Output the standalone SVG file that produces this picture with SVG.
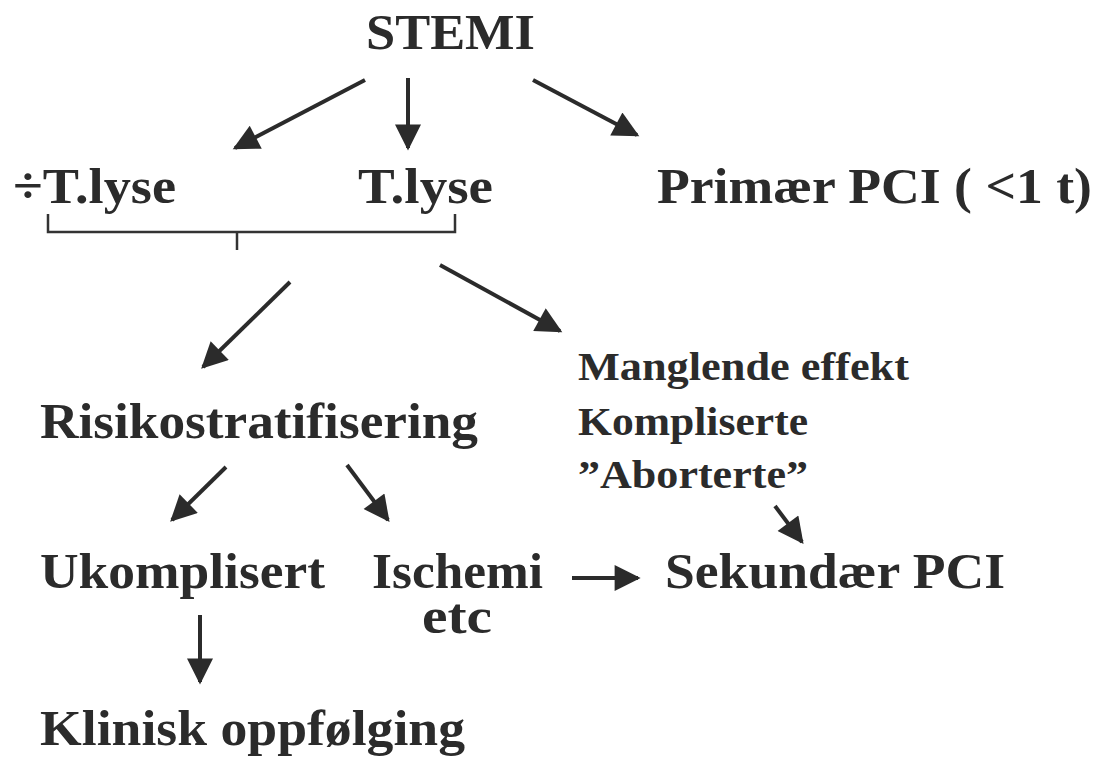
<svg xmlns="http://www.w3.org/2000/svg" width="1098" height="757" viewBox="0 0 1098 757">
<defs>
<style>
text{font-family:"Liberation Serif","Times New Roman",serif;font-weight:bold;fill:#2b2b2b}
.big{font-size:51px}
.mid{font-size:40px}
.ln{stroke:#2b2b2b;stroke-width:4;fill:none}
.br{stroke:#333;stroke-width:2.5;fill:none}
</style>
<marker id="a" viewBox="0 0 10 10" refX="9" refY="5" markerWidth="7" markerHeight="6.5" orient="auto">
<path d="M0,0 L10,5 L0,10 z" fill="#2b2b2b"/>
</marker>
</defs>
<rect width="1098" height="757" fill="#fff"/>
<g id="stemi"><text class="big" x="366" y="49" textLength="169" lengthAdjust="spacingAndGlyphs">STEMI</text></g>
<g id="ingen-tlyse"><text class="big" x="13" y="203" textLength="163" lengthAdjust="spacingAndGlyphs">÷T.lyse</text></g>
<g id="tlyse"><text class="big" x="358" y="203" textLength="135" lengthAdjust="spacingAndGlyphs">T.lyse</text></g>
<g id="primaer"><text class="big" x="657" y="203" textLength="435" lengthAdjust="spacingAndGlyphs">Primær PCI ( &lt;1 t)</text></g>
<g id="risiko"><text class="big" x="40" y="438" textLength="438" lengthAdjust="spacingAndGlyphs">Risikostratifisering</text></g>
<g id="manglende">
<text class="mid" x="578" y="380" textLength="331" lengthAdjust="spacingAndGlyphs">Manglende effekt</text>
<text class="mid" x="578" y="435" textLength="230" lengthAdjust="spacingAndGlyphs">Kompliserte</text>
<text class="mid" x="578" y="488" textLength="230" lengthAdjust="spacingAndGlyphs">”Aborterte”</text>
</g>
<g id="ukomplisert"><text class="big" x="40" y="588" textLength="285" lengthAdjust="spacingAndGlyphs">Ukomplisert</text></g>
<g id="ischemi">
<text class="big"><tspan x="372" y="588" textLength="171" lengthAdjust="spacingAndGlyphs">Ischemi</tspan><tspan x="422" y="633" textLength="70" lengthAdjust="spacingAndGlyphs">etc</tspan></text>
</g>
<g id="sekundaer"><text class="big" x="665" y="588" textLength="340" lengthAdjust="spacingAndGlyphs">Sekundær PCI</text></g>
<g id="klinisk"><text class="big" x="40" y="745" textLength="425" lengthAdjust="spacingAndGlyphs">Klinisk oppfølging</text></g>
<g id="connectors">
<polyline class="br" points="48,214 48,232 455,232 455,214"/>
<line class="br" x1="237" y1="232" x2="237" y2="250"/>
<line class="ln" x1="365" y1="80" x2="235" y2="148" marker-end="url(#a)"/>
<line class="ln" x1="408" y1="78" x2="408" y2="148" marker-end="url(#a)"/>
<line class="ln" x1="533" y1="80" x2="637" y2="135" marker-end="url(#a)"/>
<line class="ln" x1="290" y1="282" x2="203" y2="367" marker-end="url(#a)"/>
<line class="ln" x1="440" y1="265" x2="560" y2="331" marker-end="url(#a)"/>
<line class="ln" x1="226" y1="467" x2="172" y2="520" marker-end="url(#a)"/>
<line class="ln" x1="347" y1="465" x2="388" y2="520" marker-end="url(#a)"/>
<line class="ln" x1="775" y1="506" x2="802" y2="542" marker-end="url(#a)"/>
<line class="ln" x1="572" y1="578" x2="638" y2="578" marker-end="url(#a)"/>
<line class="ln" x1="200" y1="615" x2="200" y2="682" marker-end="url(#a)"/>
</g>
</svg>
